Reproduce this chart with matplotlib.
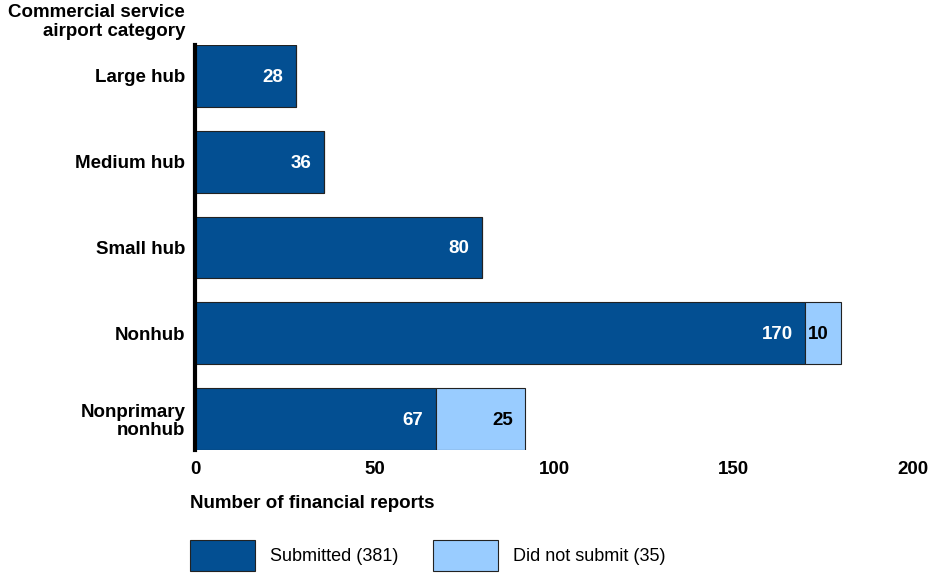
import matplotlib.pyplot as plt
from matplotlib.patches import Patch

# airport categories, top to bottom
categories = ['Large hub', 'Medium hub', 'Small hub', 'Nonhub', 'Nonprimary\nnonhub']
submitted = [28, 36, 80, 170, 67]
not_submitted = [0, 0, 0, 10, 25]
legend_labels = ['Submitted (381)', 'Did not submit (35)']

dark = '#034f92'
light = '#99ccff'
edge = '#222222'
fs = 13.5

plt.rcParams['font.family'] = ['Liberation Sans', 'DejaVu Sans']

fig = plt.figure(figsize=(9.46, 5.73), dpi=100)
ax = fig.add_axes([195 / 946, 123 / 573, 718 / 946, 405 / 573])

y = list(range(len(categories)))
h = 0.72
ax.barh(y, submitted, height=h, color=dark, edgecolor=edge, linewidth=0.8)
ax.barh(y, not_submitted, left=submitted, height=h, color=light, edgecolor=edge, linewidth=0.8)

# value labels inside the bars
for i in y:
    ax.annotate(str(submitted[i]), (submitted[i], i), xytext=(-9, -1), textcoords='offset points',
                ha='right', va='center', color='white', fontsize=fs, fontweight='bold')
    if not_submitted[i] > 0:
        ax.annotate(str(not_submitted[i]), (submitted[i] + not_submitted[i], i), xytext=(-9, -1),
                    textcoords='offset points', ha='right', va='center', color='black',
                    fontsize=fs, fontweight='bold')

ax.set_xlim(0, 200)
ax.set_ylim(len(categories) - 1 + h / 2, -h / 2)
ax.set_xticks([0, 50, 100, 150, 200])
ax.set_yticks(y)
ax.set_yticklabels(categories, fontsize=fs, fontweight='bold', linespacing=1.05)
ax.tick_params(axis='x', length=0, pad=8, labelsize=fs)
ax.tick_params(axis='y', length=0, pad=7)
for lab in ax.get_xticklabels():
    lab.set_fontweight('bold')

for s in ['top', 'right', 'bottom']:
    ax.spines[s].set_visible(False)
ax.spines['left'].set_linewidth(3)
ax.spines['left'].set_color('black')

fig.text(185 / 946, 1 - 4 / 573, 'Commercial service\nairport category', ha='right', va='top',
         fontsize=fs, fontweight='bold', linespacing=1.12)
fig.text(190 / 946, 1 - 503 / 573, 'Number of financial reports', ha='left', va='center',
         fontsize=fs, fontweight='bold')

handles = [Patch(facecolor=dark, edgecolor=edge, linewidth=0.8),
           Patch(facecolor=light, edgecolor=edge, linewidth=0.8)]
fig.legend(handles, legend_labels, loc='upper left', bbox_to_anchor=(190 / 946, 1 - 540 / 573),
           ncol=2, frameon=False, borderpad=0, borderaxespad=0, handlelength=3.6, handleheight=2.3,
           handletextpad=0.83, columnspacing=1.9,
           prop={'size': 13})

fig.savefig('out.png', dpi=100)
